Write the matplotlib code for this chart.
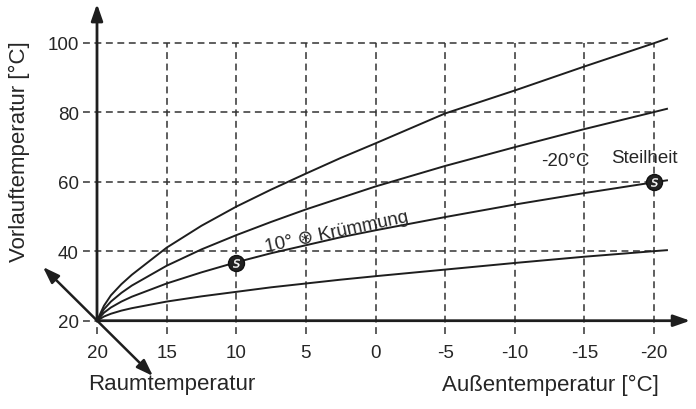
import matplotlib
matplotlib.use("Agg")
import matplotlib.pyplot as plt

plt.rcParams['font.family'] = ['Liberation Sans', 'DejaVu Sans']

# ---- data ----
outside_temp = [20, 19.5, 19, 18.25, 17.5, 15, 12.5, 10, 7.5, 5, 2.5, 0, -5, -10, -15, -20, -21]
curve_100 = [20, 24.3, 27.3, 30.5, 33.2, 41.0, 47.3, 52.8, 57.7, 62.3, 66.8, 71.0, 79.6, 86.2, 93.1, 99.8, 101.2]
curve_80 = [20, 23.3, 25.5, 28.0, 30.1, 35.8, 40.5, 44.6, 48.4, 52.0, 55.3, 58.6, 64.5, 69.9, 75.1, 80.0, 81.0]
curve_60 = [20, 22.3, 23.8, 25.5, 26.9, 30.7, 33.9, 36.8, 39.4, 41.7, 44.0, 46.0, 49.8, 53.4, 56.7, 59.8, 60.4]
curve_40 = [20, 21.2, 22.0, 22.9, 23.6, 25.5, 27.0, 28.3, 29.6, 30.7, 31.8, 32.8, 34.7, 36.6, 38.4, 40.0, 40.3]
curves = [curve_100, curve_80, curve_60, curve_40]

x_ticks = [20, 15, 10, 5, 0, -5, -10, -15, -20]
x_tick_labels = ['20', '15', '10', '5', '0', '-5', '-10', '-15', '-20']
y_ticks = [20, 40, 60, 80, 100]
y_tick_labels = ['20', '40', '60', '80', '100']

marker_x = [10, -20]
marker_y = [36.5, 59.8]

ink = '#1e1e1e'
txt = '#262626'

fig = plt.figure(figsize=(6.96, 4.10), dpi=100)
ax = fig.add_axes([97/696, (410-321.7)/410, 557/696, 278.2/410])
ax.set_xlim(20, -20)
ax.set_ylim(20, 100)
for s in ax.spines.values():
    s.set_visible(False)
ax.set_xticks(x_ticks, x_tick_labels)
ax.set_yticks(y_ticks, y_tick_labels)
ax.tick_params(axis='x', length=0, pad=17, labelsize=13.5, labelcolor=txt)
ax.tick_params(axis='y', length=0, pad=13, labelsize=13.5, labelcolor=txt)

# dashed grid (extends slightly past the axes)
dash = (4.5, 3.0)
for y in y_ticks[1:]:
    ax.plot([21.0, -20], [y, y], color='#333333', lw=1.1, dashes=dash, clip_on=False, zorder=1)
ax.plot([21.0, 20], [20, 20], color='#333333', lw=1.1, dashes=dash, clip_on=False, zorder=1)
for x in x_ticks:
    ax.plot([x, x], [16.2, 100 if x != 20 else 20], color='#333333', lw=1.1, dashes=dash,
            clip_on=False, zorder=1)

# curves
for c in curves:
    ax.plot(outside_temp, c, color=ink, lw=1.4, clip_on=False, zorder=3,
            solid_capstyle='butt', solid_joinstyle='round')

# axes arrows
arrow_kw = dict(arrowstyle='-|>,head_length=1.0,head_width=0.35', color=ink, lw=2.0,
                shrinkA=0, shrinkB=0)
ax.annotate('', xy=(20, 111.1), xytext=(20, 20), arrowprops=arrow_kw,
            annotation_clip=False, zorder=4)
ax.annotate('', xy=(-22.6, 20), xytext=(20, 20), arrowprops=arrow_kw,
            annotation_clip=False, zorder=4)
ax.annotate('', xy=(15.98, 4.1), xytext=(23.88, 35.44),
            arrowprops=dict(arrowstyle='<|-|>,head_length=1.0,head_width=0.35', color=ink,
                            lw=1.8, shrinkA=0, shrinkB=0),
            annotation_clip=False, zorder=4)

# markers
ax.plot(marker_x, marker_y, 'o', ms=11.5, mfc='#222222', mec='#111111', mew=1.0,
        clip_on=False, zorder=5)
ax.plot(marker_x, marker_y, marker='$S$', ls='none', ms=6, mfc='white', mec='white',
        mew=0.3, clip_on=False, zorder=6)

# labels
ax.text(14.61, 1.8, 'Raumtemperatur', fontsize=16, color=txt, ha='center', va='center')
ax.text(-12.53, 1.8, 'Außentemperatur [°C]', fontsize=16, color=txt, ha='center', va='center')
ax.text(25.6, 68.8, 'Vorlauftemperatur [°C]', fontsize=16, color=txt, ha='center',
        va='center', rotation=90)
ax.text(-13.61, 66.2, '-20°C', fontsize=13.5, color=txt, ha='center', va='center')
ax.text(-19.3, 66.8, 'Steilheit', fontsize=13.5, color=txt, ha='center', va='center')
ax.text(2.8, 45.6, '10° ⊛ Krümmung', fontsize=13.5, color=txt, ha='center', va='center',
        rotation=12, rotation_mode='anchor')

fig.savefig('out.png', dpi=100)
